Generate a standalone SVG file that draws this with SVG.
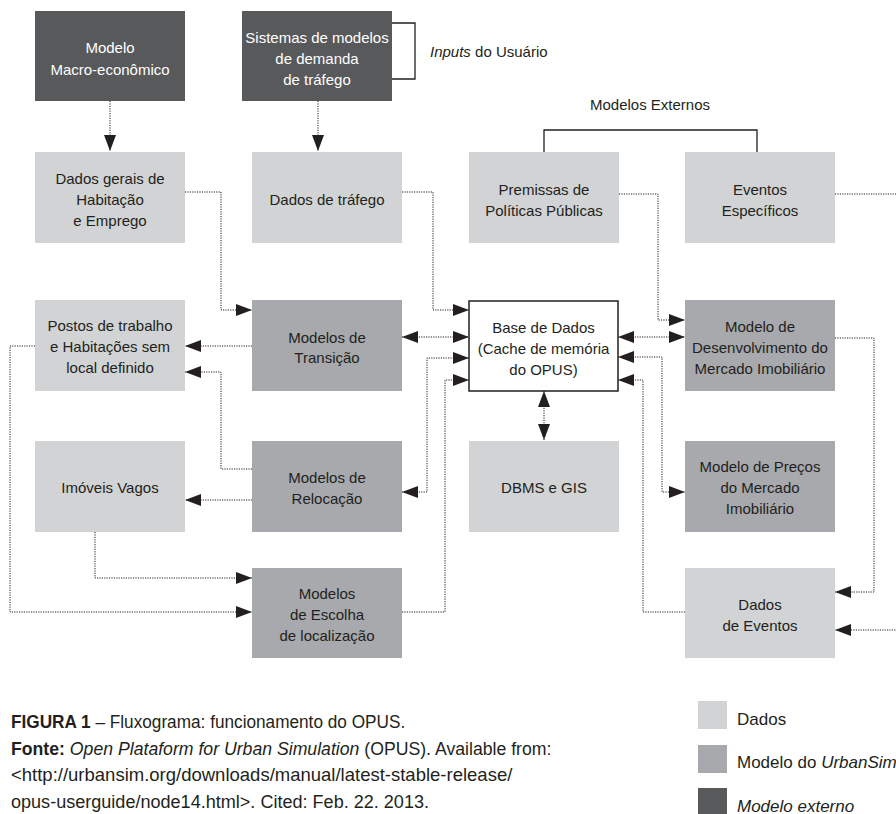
<svg xmlns="http://www.w3.org/2000/svg" width="896" height="814" viewBox="0 0 896 814">
<style>
.dark{fill:#58595b}
.mid{fill:#a7a9ac}
.light{fill:#d1d3d4}
.t{font-family:"Liberation Sans",Arial,sans-serif;font-size:15px;fill:#231f20;text-anchor:middle}
.tw{font-family:"Liberation Sans",Arial,sans-serif;font-size:15px;fill:#ffffff;text-anchor:middle}
.dot{fill:none;stroke:#231f20;stroke-width:1;stroke-dasharray:1.2 1.2}
.solid{fill:none;stroke:#231f20;stroke-width:1.3}
.cap{font-family:"Liberation Sans",Arial,sans-serif;font-size:18.5px;fill:#231f20}
.leg{font-family:"Liberation Sans",Arial,sans-serif;font-size:17px;fill:#231f20}
.lab{font-family:"Liberation Sans",Arial,sans-serif;font-size:15px;fill:#231f20}
</style>
<defs>
<marker id="ah" viewBox="0 0 16 12" refX="16" refY="6" markerWidth="16" markerHeight="12" markerUnits="userSpaceOnUse" orient="auto-start-reverse">
<path d="M0,0 L16,6 L0,12 z" fill="#231f20"/>
</marker>
</defs>
<rect width="896" height="814" fill="#ffffff"/>

<g id="macro"><rect class="dark" x="35" y="11" width="150" height="90"/>
<text class="tw" x="110" y="53">Modelo</text><text class="tw" x="110" y="75">Macro-econômico</text></g>
<g id="sistemas"><rect class="dark" x="242" y="11" width="150" height="90"/>
<text class="tw" x="317" y="43">Sistemas de modelos</text><text class="tw" x="317" y="64">de demanda</text><text class="tw" x="317" y="85">de tráfego</text></g>
<g id="dadosGerais"><rect class="light" x="35" y="152" width="150" height="91"/>
<text class="t" x="110" y="184">Dados gerais de</text><text class="t" x="110" y="205">Habitação</text><text class="t" x="110" y="226">e Emprego</text></g>
<g id="dadosTrafego"><rect class="light" x="252" y="152" width="150" height="91"/>
<text class="t" x="327" y="205">Dados de tráfego</text></g>
<g id="premissas"><rect class="light" x="469" y="152" width="150" height="91"/>
<text class="t" x="544" y="195">Premissas de</text><text class="t" x="544" y="216">Políticas Públicas</text></g>
<g id="eventosEspecificos"><rect class="light" x="685" y="152" width="150" height="91"/>
<text class="t" x="760" y="195">Eventos</text><text class="t" x="760" y="216">Específicos</text></g>
<g id="postos"><rect class="light" x="35" y="300" width="150" height="91"/>
<text class="t" x="110" y="331">Postos de trabalho</text><text class="t" x="110" y="352">e Habitações sem</text><text class="t" x="110" y="373">local definido</text></g>
<g id="transicao"><rect class="mid" x="252" y="300" width="150" height="91"/>
<text class="t" x="327" y="343">Modelos de</text><text class="t" x="327" y="363">Transição</text></g>
<g id="base"><rect x="469" y="301" width="149" height="90" fill="#ffffff" stroke="#231f20" stroke-width="1.5"/>
<text class="t" x="543.5" y="333">Base de Dados</text><text class="t" x="543.5" y="354">(Cache de memória</text><text class="t" x="543.5" y="375">do OPUS)</text></g>
<g id="desenvolvimento"><rect class="mid" x="685" y="300" width="150" height="91"/>
<text class="t" x="760" y="332">Modelo de</text><text class="t" x="760" y="353">Desenvolvimento do</text><text class="t" x="760" y="374">Mercado Imobiliário</text></g>
<g id="imoveis"><rect class="light" x="35" y="441" width="150" height="91"/>
<text class="t" x="110" y="493">Imóveis Vagos</text></g>
<g id="relocacao"><rect class="mid" x="252" y="441" width="150" height="91"/>
<text class="t" x="327" y="483">Modelos de</text><text class="t" x="327" y="504">Relocação</text></g>
<g id="dbms"><rect class="light" x="469" y="441" width="150" height="91"/>
<text class="t" x="544" y="493">DBMS e GIS</text></g>
<g id="precos"><rect class="mid" x="685" y="441" width="150" height="91"/>
<text class="t" x="760" y="472">Modelo de Preços</text><text class="t" x="760" y="493">do Mercado</text><text class="t" x="760" y="514">Imobiliário</text></g>
<g id="escolha"><rect class="mid" x="252" y="568" width="150" height="90"/>
<text class="t" x="327" y="599">Modelos</text><text class="t" x="327" y="620">de Escolha</text><text class="t" x="327" y="641">de localização</text></g>
<g id="dadosEventos"><rect class="light" x="685" y="568" width="150" height="90"/>
<text class="t" x="760" y="610">Dados</text><text class="t" x="760" y="631">de Eventos</text></g>

<g id="labels">
<text class="lab" x="430" y="57"><tspan font-style="italic">Inputs</tspan> do Usuário</text>
<text class="lab" x="650" y="110" text-anchor="middle">Modelos Externos</text>
</g>

<g id="connectors">
<path class="solid" d="M392,23 H415 V79 H392"/>
<path class="solid" d="M544,152 V130 H757 V152"/>
<path class="dot" d="M110,101 V151" marker-end="url(#ah)"/>
<path class="dot" d="M318,101 V151" marker-end="url(#ah)"/>
<path class="dot" d="M185,192 H221 V310 H252" marker-end="url(#ah)"/>
<path class="dot" d="M402,192 H433 V310 H469" marker-end="url(#ah)"/>
<path class="dot" d="M619,194 H658 V320 H685" marker-end="url(#ah)"/>
<path class="dot" d="M835,194 H910 V630 H835" marker-end="url(#ah)"/>
<path class="dot" d="M835,338 H874 V592 H835" marker-end="url(#ah)"/>
<path class="dot" d="M252,346 H185" marker-end="url(#ah)"/>
<path class="dot" d="M402,337 H469" marker-start="url(#ah)" marker-end="url(#ah)"/>
<path class="dot" d="M402,492 H427 V358 H469" marker-start="url(#ah)" marker-end="url(#ah)"/>
<path class="dot" d="M402,612 H445 V380 H469" marker-end="url(#ah)"/>
<path class="dot" d="M35,346 H10 V612 H252" marker-end="url(#ah)"/>
<path class="dot" d="M252,469 H221 V372 H185" marker-end="url(#ah)"/>
<path class="dot" d="M252,500 H185" marker-end="url(#ah)"/>
<path class="dot" d="M95,532 V578 H252" marker-end="url(#ah)"/>
<path class="dot" d="M544,391 V440" marker-start="url(#ah)" marker-end="url(#ah)"/>
<path class="dot" d="M618,337 H685" marker-start="url(#ah)" marker-end="url(#ah)"/>
<path class="dot" d="M618,357 H662 V492 H685" marker-start="url(#ah)" marker-end="url(#ah)"/>
<path class="dot" d="M685,612 H643 V380 H618" marker-end="url(#ah)"/>
</g>

<g id="caption">
<text class="cap" transform="translate(11,728) scale(0.93,1)"><tspan font-weight="bold">FIGURA 1</tspan> – Fluxograma: funcionamento do OPUS.</text>
<text class="cap" transform="translate(11,754.5) scale(0.955,1)"><tspan font-weight="bold">Fonte:</tspan> <tspan font-style="italic">Open Plataform for Urban Simulation</tspan> (OPUS). Available from:</text>
<text class="cap" x="11" y="781">&lt;http://urbansim.org/downloads/manual/latest-stable-release/</text>
<text class="cap" transform="translate(11,807.5) scale(0.977,1)">opus-userguide/node14.html&gt;. Cited: Feb. 22. 2013.</text>
</g>

<g id="legend">
<rect class="light" x="698" y="701" width="29" height="28"/>
<rect class="mid" x="698" y="745" width="29" height="28"/>
<rect class="dark" x="698" y="788" width="29" height="28"/>
<text class="leg" x="737" y="725">Dados</text>
<text class="leg" x="737" y="768">Modelo do <tspan font-style="italic">UrbanSim</tspan></text>
<text class="leg" x="737" y="812" font-style="italic">Modelo externo</text>
</g>
</svg>
